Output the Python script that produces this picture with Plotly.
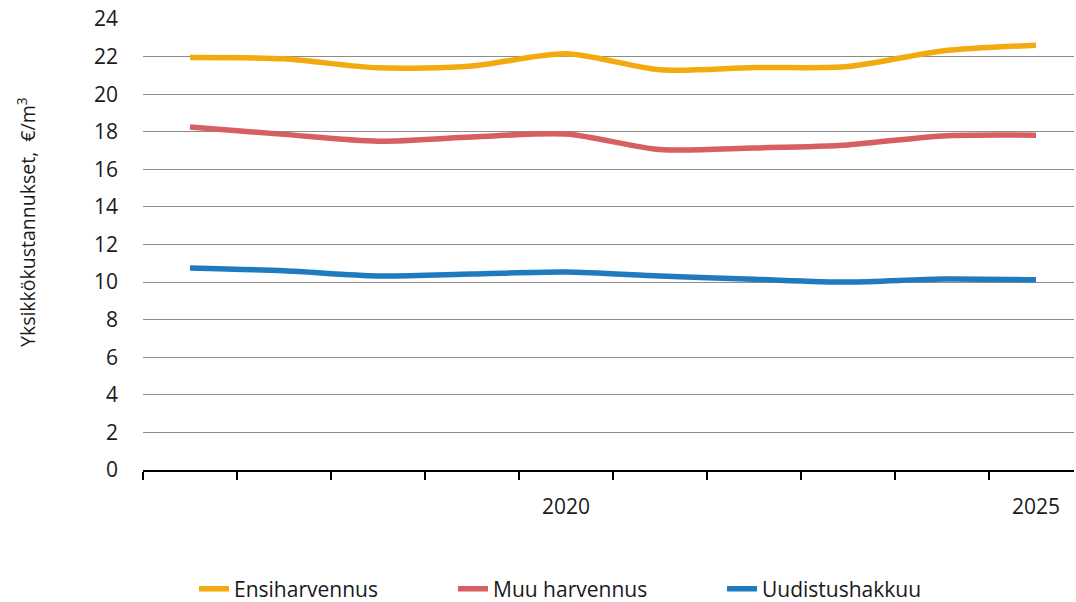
import plotly.graph_objects as go

years = [2016, 2017, 2018, 2019, 2020, 2021, 2022, 2023, 2024, 2025]
ensiharvennus = [21.95, 21.88, 21.4, 21.5, 22.15, 21.3, 21.42, 21.47, 22.3, 22.6]
muu_harvennus = [18.25, 17.86, 17.5, 17.72, 17.88, 17.05, 17.14, 17.3, 17.78, 17.82]
uudistushakkuu = [10.75, 10.6, 10.33, 10.43, 10.54, 10.32, 10.15, 10.0, 10.16, 10.12]
y_ticks = list(range(0, 25, 2))
x_label_years = [2020, 2025]
y_title = "Yksikkökustannukset,  €/m<sup>3</sup>"

series = [
    ("Ensiharvennus", ensiharvennus, "#F2AA0F", "legend"),
    ("Muu harvennus", muu_harvennus, "#D65F5F", "legend2"),
    ("Uudistushakkuu", uudistushakkuu, "#1F7BBF", "legend3"),
]

W, H = 1076, 602
L, T, B, R = 143, 19, 132, 2
PW = W - L - R
PH = H - T - B


def px_x(x):
    return (x - L) / PW


def px_y(y):
    return (H - B - y) / PH


fig = go.Figure()
for name, vals, col, lg in series:
    fig.add_trace(go.Scatter(
        x=years, y=vals, name=name, mode="lines", legend=lg,
        line=dict(color=col, width=5.5, shape="spline", smoothing=0.8),
    ))

font = "Open Sans"
txt = "#1a1a1a"
leg_common = dict(orientation="h", xanchor="left", yanchor="middle",
                  y=px_y(589), font=dict(size=21, color=txt),
                  bgcolor="rgba(0,0,0,0)")
fig.update_layout(
    width=W, height=H,
    margin=dict(l=L, r=R, t=T, b=B, autoexpand=False),
    plot_bgcolor="white", paper_bgcolor="white",
    font=dict(family=font, size=21, color=txt),
    showlegend=True,
    legend=dict(x=px_x(194), **leg_common),
    legend2=dict(x=px_x(453), **leg_common),
    legend3=dict(x=px_x(722), **leg_common),
    xaxis=dict(
        range=[2015.5, 2015.5 + PW / 94],
        tickvals=x_label_years, ticktext=[str(v) for v in x_label_years],
        ticks="", showgrid=False, zeroline=False,
        showline=True, linecolor="black", linewidth=1.5,
        ticklabelstandoff=17, ticklabeloverflow="allow",
        minor=dict(tickvals=[y - 0.5 for y in years] + [2025.5], ticks="outside",
                   ticklen=8, tickcolor="black", tickwidth=1.5, showgrid=False),
        tickfont=dict(size=21, color=txt),
    ),
    yaxis=dict(
        range=[0, 24], tickvals=y_ticks,
        showgrid=True, gridcolor="#8C8C8C", gridwidth=1.2,
        zeroline=False, showline=False, ticks="",
        ticklabelstandoff=24, ticklabeloverflow="allow",
        tickfont=dict(size=21, color=txt),
    ),
    annotations=[dict(
        text=y_title, textangle=-90, showarrow=False,
        xref="paper", yref="paper", x=px_x(27), y=px_y(222),
        xanchor="center", yanchor="middle",
        font=dict(size=19.5, color=txt, family=font),
    )],
)

fig.write_html("out.html",
               config={"displayModeBar": False},
               post_script="document.body.style.margin='0';document.body.style.overflow='hidden';")
